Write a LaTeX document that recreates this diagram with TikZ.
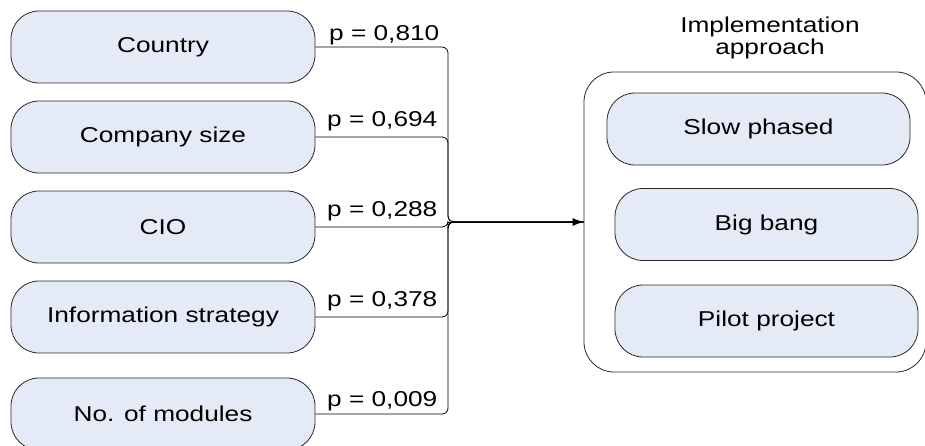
\documentclass[tikz,border=0pt]{standalone}
\usepackage{fontspec}
\setmainfont[FakeStretch=1.22]{Liberation Sans}
\usetikzlibrary{arrows.meta}
\definecolor{boxfill}{RGB}{229,235,246}
\definecolor{boxline}{RGB}{40,40,40}
\tikzset{
  factor/.style={draw=boxline, line width=0.8pt, fill=boxfill, rounded corners=28pt,
    minimum width=304pt, minimum height=72pt, inner sep=0pt},
  option/.style={factor, minimum width=303pt},
  group/.style={draw=boxline, line width=0.8pt, rounded corners=30pt, inner sep=0pt},
  conn/.style={draw=black, line width=0.8pt, rounded corners=6pt},
  plabel/.style={anchor=base west, inner sep=0pt},
  txt/.style={font=\fontsize{21.5}{22}\selectfont}
}
\begin{document}
\begin{tikzpicture}[x=1pt, y=-1pt, every node/.style={txt}]
  \useasboundingbox (0,0) rectangle (925,446);

  % factors on the left
  \node[factor] (country) at (163,47)  {Country};
  \node[factor] (size)    at (163,137) {Company size};
  \node[factor] (cio)     at (163,227) {CIO};
  \node[factor] (info)    at (163,317) {Information strategy};
  \node[factor] (mods)    at (163,414) {No. of modules};

  % implementation approach group
  \node[group, minimum width=342pt, minimum height=300pt] (impl) at (755,222) {};
  \node[align=center, inner sep=0pt, anchor=base] (title) at (770,55)
    {Implementation\\[0pt]approach};
  \node[option] (slow)  at (758.5,129) {Slow phased};
  \node[option] (bang)  at (766.5,224.5) {Big bang};
  \node[option] (pilot) at (766.5,321) {Pilot project};

  % connectors merging into one bus
  \coordinate (j) at (448,222);
  \foreach \s in {country,size,cio,info,mods}
    \draw[conn] (\s.east) -| (j) -- (impl.west);
  \draw[line width=0.8pt, -{Latex[length=11pt,width=8pt]}] (j) -- (impl.west);

  % p-values
  \node[plabel] (p1) at (329,40.7)  {p = 0,810};
  \node[plabel] (p2) at (327,126.7) {p = 0,694};
  \node[plabel] (p3) at (327,216.7) {p = 0,288};
  \node[plabel] (p4) at (327,306.7) {p = 0,378};
  \node[plabel] (p5) at (327,406.7) {p = 0,009};
\end{tikzpicture}
\end{document}
